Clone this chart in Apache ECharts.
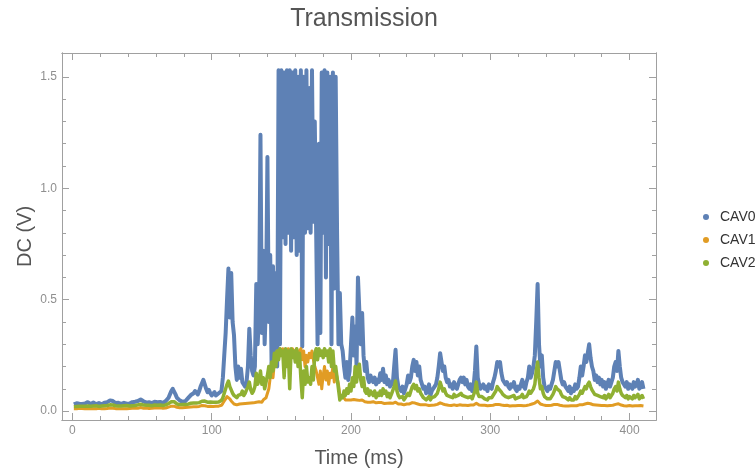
<!DOCTYPE html>
<html>
<head>
<meta charset="utf-8">
<script src="https://cdn.jsdelivr.net/npm/echarts@6/dist/echarts.min.js"></script>
<style>
html,body{margin:0;padding:0;background:#fff;}
#chart{width:755px;height:473px;}
</style>
</head>
<body>
<div id="chart"></div>
<script>
// Sampling: first time (ms) and step (ms) of every series below
const T_START = 1;
const T_STEP = 1;

const seriesNames = ["CAV0", "CAV1", "CAV2"];
const xMajorTicks = [0, 100, 200, 300, 400];
const xMinorTicks = [20, 40, 60, 80, 120, 140, 160, 180, 220, 240, 260, 280, 320, 340, 360, 380];
const yMajorTicks = [0, 0.5, 1.0, 1.5];
const yMinorTicks = [0.1, 0.2, 0.3, 0.4, 0.6, 0.7, 0.8, 0.9, 1.1, 1.2, 1.3, 1.4];

const cav0 = [
0.030,0.032,0.035,0.030,0.033,0.036,0.032,0.030,0.034,0.037,
0.040,0.036,0.032,0.035,0.038,0.034,0.031,0.033,0.036,0.032,
0.030,0.034,0.038,0.035,0.040,0.045,0.048,0.052,0.045,0.040,
0.036,0.034,0.037,0.035,0.032,0.034,0.037,0.035,0.033,0.036,
0.034,0.038,0.040,0.037,0.042,0.040,0.045,0.048,0.052,0.050,
0.044,0.040,0.038,0.036,0.040,0.038,0.036,0.039,0.042,0.038,
0.040,0.038,0.041,0.039,0.037,0.040,0.045,0.050,0.060,0.075,
0.090,0.100,0.095,0.075,0.060,0.052,0.048,0.045,0.042,0.046,
0.044,0.050,0.058,0.065,0.072,0.068,0.080,0.090,0.082,0.075,
0.090,0.110,0.125,0.140,0.120,0.100,0.085,0.095,0.080,0.070,
0.075,0.085,0.070,0.065,0.080,0.075,0.090,0.150,0.250,0.350,
0.500,0.640,0.420,0.620,0.400,0.340,0.200,0.140,0.200,0.150,
0.190,0.130,0.120,0.110,0.130,0.200,0.370,0.250,0.180,0.160,
0.200,0.570,0.300,0.450,1.240,0.350,0.720,0.300,0.500,1.140,
0.400,0.700,0.200,0.650,0.250,0.620,0.200,1.530,0.300,1.530,
0.780,1.520,0.750,1.530,0.800,1.530,0.720,1.520,0.780,1.530,
0.700,1.500,0.720,1.530,0.290,1.500,0.800,1.530,0.820,1.450,
0.800,1.530,0.850,1.300,0.800,0.300,1.200,0.350,1.520,0.800,
1.530,0.600,1.520,0.750,1.500,0.300,1.520,0.550,1.500,0.800,
0.300,0.530,0.300,0.270,0.200,0.150,0.220,0.140,0.180,0.300,
0.420,0.250,0.380,0.200,0.600,0.450,0.300,0.440,0.250,0.180,
0.220,0.150,0.130,0.160,0.140,0.130,0.150,0.120,0.140,0.130,
0.170,0.140,0.190,0.130,0.160,0.120,0.140,0.110,0.130,0.120,
0.200,0.275,0.150,0.110,0.100,0.090,0.110,0.080,0.100,0.120,
0.160,0.130,0.150,0.200,0.230,0.180,0.220,0.160,0.200,0.140,
0.120,0.100,0.110,0.080,0.090,0.120,0.070,0.090,0.100,0.110,
0.120,0.150,0.200,0.260,0.220,0.180,0.200,0.150,0.130,0.140,
0.110,0.120,0.100,0.130,0.110,0.100,0.120,0.140,0.150,0.130,
0.150,0.120,0.140,0.110,0.100,0.120,0.090,0.110,0.180,0.290,
0.150,0.120,0.100,0.110,0.120,0.100,0.110,0.090,0.120,0.110,
0.100,0.130,0.150,0.180,0.220,0.200,0.220,0.170,0.140,0.130,
0.120,0.130,0.110,0.100,0.120,0.110,0.130,0.100,0.090,0.110,
0.100,0.120,0.140,0.110,0.100,0.130,0.150,0.200,0.150,0.170,
0.200,0.250,0.400,0.570,0.300,0.200,0.250,0.150,0.110,0.100,
0.090,0.110,0.100,0.120,0.140,0.180,0.220,0.200,0.220,0.180,
0.140,0.120,0.130,0.110,0.100,0.090,0.110,0.080,0.100,0.090,
0.120,0.100,0.110,0.150,0.200,0.160,0.200,0.250,0.220,0.260,
0.300,0.240,0.200,0.180,0.140,0.160,0.130,0.150,0.120,0.140,
0.110,0.130,0.100,0.120,0.140,0.110,0.130,0.150,0.200,0.220,
0.180,0.270,0.200,0.150,0.130,0.120,0.110,0.130,0.100,0.120,
0.110,0.100,0.130,0.110,0.120,0.140,0.100,0.110,0.130,0.100
];

const cav1 = [
0.010,0.012,0.010,0.011,0.013,0.010,0.012,0.011,0.010,0.012,
0.011,0.013,0.012,0.010,0.011,0.012,0.010,0.011,0.013,0.012,
0.010,0.012,0.011,0.013,0.012,0.011,0.014,0.016,0.013,0.012,
0.011,0.012,0.010,0.013,0.011,0.012,0.010,0.012,0.011,0.013,
0.012,0.011,0.013,0.012,0.014,0.012,0.013,0.015,0.016,0.014,
0.013,0.012,0.014,0.013,0.012,0.014,0.013,0.012,0.014,0.013,
0.014,0.013,0.015,0.014,0.013,0.015,0.014,0.016,0.018,0.020,
0.022,0.024,0.022,0.019,0.017,0.016,0.015,0.016,0.015,0.017,
0.016,0.018,0.017,0.019,0.018,0.020,0.019,0.021,0.020,0.019,
0.021,0.023,0.025,0.027,0.024,0.022,0.021,0.023,0.022,0.020,
0.021,0.023,0.022,0.020,0.022,0.024,0.026,0.035,0.045,0.055,
0.065,0.070,0.055,0.045,0.038,0.032,0.030,0.028,0.030,0.032,
0.030,0.033,0.031,0.034,0.032,0.035,0.040,0.036,0.034,0.037,
0.035,0.040,0.038,0.042,0.045,0.040,0.050,0.055,0.060,0.080,
0.100,0.150,0.180,0.150,0.220,0.250,0.270,0.240,0.280,0.260,
0.280,0.250,0.270,0.220,0.280,0.260,0.240,0.280,0.270,0.250,
0.280,0.240,0.270,0.280,0.230,0.270,0.200,0.250,0.220,0.260,
0.240,0.270,0.230,0.200,0.180,0.150,0.120,0.180,0.100,0.160,
0.200,0.140,0.180,0.120,0.170,0.150,0.200,0.130,0.180,0.150,
0.120,0.070,0.060,0.055,0.060,0.050,0.055,0.050,0.045,0.050,
0.048,0.052,0.046,0.050,0.055,0.048,0.045,0.050,0.044,0.042,
0.045,0.040,0.043,0.040,0.038,0.042,0.040,0.037,0.040,0.038,
0.035,0.038,0.036,0.034,0.037,0.035,0.033,0.036,0.034,0.035,
0.038,0.040,0.035,0.032,0.030,0.032,0.030,0.028,0.030,0.032,
0.030,0.032,0.035,0.038,0.040,0.036,0.034,0.032,0.030,0.028,
0.030,0.028,0.026,0.028,0.027,0.025,0.027,0.026,0.028,0.027,
0.028,0.030,0.034,0.037,0.035,0.032,0.030,0.028,0.027,0.026,
0.027,0.025,0.026,0.028,0.027,0.025,0.026,0.028,0.027,0.026,
0.028,0.026,0.027,0.025,0.026,0.027,0.025,0.027,0.030,0.035,
0.030,0.027,0.025,0.026,0.024,0.026,0.025,0.024,0.026,0.025,
0.024,0.026,0.028,0.030,0.032,0.030,0.028,0.027,0.026,0.025,
0.024,0.026,0.025,0.023,0.025,0.024,0.026,0.024,0.023,0.025,
0.024,0.025,0.026,0.024,0.023,0.025,0.027,0.028,0.030,0.032,
0.034,0.036,0.040,0.045,0.038,0.032,0.030,0.028,0.026,0.025,
0.024,0.025,0.024,0.026,0.028,0.030,0.032,0.030,0.028,0.026,
0.025,0.024,0.025,0.023,0.024,0.023,0.025,0.024,0.023,0.024,
0.025,0.024,0.026,0.028,0.030,0.028,0.030,0.032,0.034,0.035,
0.036,0.033,0.030,0.028,0.026,0.027,0.025,0.026,0.024,0.025,
0.024,0.025,0.023,0.024,0.026,0.025,0.024,0.026,0.028,0.030,
0.030,0.033,0.030,0.027,0.025,0.024,0.025,0.023,0.024,0.025,
0.024,0.023,0.025,0.024,0.026,0.024,0.023,0.025,0.024,0.023
];

const cav2 = [
0.020,0.022,0.021,0.023,0.022,0.020,0.022,0.024,0.022,0.021,
0.023,0.025,0.022,0.021,0.023,0.022,0.024,0.023,0.021,0.022,
0.023,0.022,0.024,0.023,0.025,0.026,0.028,0.030,0.027,0.025,
0.024,0.022,0.023,0.025,0.023,0.022,0.024,0.023,0.025,0.024,
0.023,0.025,0.024,0.026,0.025,0.027,0.028,0.030,0.031,0.029,
0.027,0.025,0.026,0.024,0.026,0.025,0.024,0.026,0.027,0.025,
0.026,0.025,0.027,0.026,0.025,0.027,0.028,0.030,0.034,0.038,
0.042,0.045,0.042,0.036,0.032,0.030,0.029,0.028,0.030,0.029,
0.030,0.032,0.031,0.033,0.035,0.034,0.036,0.038,0.036,0.035,
0.038,0.041,0.044,0.048,0.045,0.042,0.040,0.043,0.041,0.039,
0.040,0.042,0.040,0.038,0.041,0.043,0.048,0.060,0.080,0.100,
0.120,0.135,0.110,0.095,0.080,0.070,0.065,0.060,0.070,0.065,
0.075,0.090,0.070,0.080,0.095,0.110,0.130,0.095,0.080,0.090,
0.110,0.170,0.120,0.140,0.180,0.120,0.150,0.100,0.130,0.160,
0.200,0.150,0.220,0.180,0.260,0.200,0.270,0.230,0.280,0.250,
0.270,0.150,0.280,0.200,0.270,0.100,0.280,0.240,0.270,0.220,
0.280,0.200,0.260,0.150,0.060,0.180,0.120,0.200,0.130,0.150,
0.120,0.200,0.140,0.260,0.280,0.230,0.280,0.250,0.270,0.240,
0.280,0.250,0.270,0.220,0.280,0.200,0.270,0.180,0.200,0.150,
0.100,0.050,0.070,0.060,0.090,0.070,0.100,0.080,0.120,0.090,
0.150,0.110,0.200,0.130,0.190,0.210,0.140,0.110,0.150,0.090,
0.080,0.100,0.070,0.090,0.080,0.070,0.090,0.060,0.080,0.070,
0.090,0.070,0.100,0.080,0.090,0.065,0.080,0.060,0.075,0.080,
0.110,0.135,0.090,0.070,0.060,0.055,0.065,0.050,0.060,0.070,
0.080,0.070,0.090,0.110,0.120,0.100,0.115,0.090,0.100,0.080,
0.070,0.060,0.065,0.050,0.055,0.065,0.050,0.060,0.055,0.065,
0.070,0.080,0.100,0.130,0.110,0.090,0.100,0.080,0.070,0.075,
0.065,0.070,0.060,0.075,0.065,0.060,0.070,0.075,0.080,0.070,
0.075,0.065,0.070,0.060,0.055,0.065,0.055,0.060,0.090,0.130,
0.080,0.065,0.060,0.065,0.060,0.055,0.060,0.050,0.060,0.055,
0.060,0.070,0.080,0.090,0.110,0.100,0.105,0.085,0.075,0.070,
0.065,0.070,0.060,0.055,0.065,0.060,0.070,0.055,0.050,0.060,
0.055,0.065,0.075,0.060,0.055,0.065,0.075,0.090,0.080,0.085,
0.100,0.120,0.180,0.220,0.150,0.100,0.110,0.080,0.065,0.060,
0.055,0.060,0.055,0.065,0.075,0.090,0.110,0.100,0.105,0.090,
0.075,0.065,0.070,0.060,0.055,0.050,0.060,0.050,0.055,0.050,
0.065,0.055,0.060,0.075,0.090,0.080,0.095,0.110,0.100,0.120,
0.130,0.110,0.095,0.090,0.075,0.080,0.070,0.075,0.065,0.070,
0.060,0.070,0.055,0.065,0.075,0.060,0.070,0.080,0.100,0.110,
0.090,0.130,0.100,0.080,0.070,0.065,0.060,0.070,0.055,0.065,
0.060,0.055,0.070,0.060,0.065,0.075,0.055,0.060,0.070,0.055
];

const seriesValues = [cav0, cav1, cav2];
const colors = ["#5E81B5", "#E19C24", "#8FB032"];
const lineWidths = [4, 3, 3.5];

function toPairs(vals) {
  return vals.map((v, i) => [T_START + i * T_STEP, v]);
}

const FRAME = "#a0a0a0";
const LABEL = "#8f8f8f";
const FONT = "Liberation Sans, Arial, sans-serif";

function xAx(pos, ticks, len, withLabel, extra) {
  return Object.assign({
    type: "value", position: pos, min: -7.5, max: 419,
    axisLine: { show: true, onZero: false, lineStyle: { color: FRAME, width: 1 } },
    axisTick: { show: true, inside: true, length: len, customValues: ticks, lineStyle: { color: FRAME } },
    axisLabel: withLabel ? { show: true, customValues: xMajorTicks, color: LABEL, fontSize: 12, fontFamily: FONT, margin: 5 } : { show: false },
    splitLine: { show: false }
  }, extra || {});
}
function yAx(pos, ticks, len, withLabel, extra) {
  return Object.assign({
    type: "value", position: pos, min: -0.04, max: 1.607,
    axisLine: { show: true, onZero: false, lineStyle: { color: FRAME, width: 1 } },
    axisTick: { show: true, inside: true, length: len, customValues: ticks, lineStyle: { color: FRAME } },
    axisLabel: withLabel ? { show: true, customValues: yMajorTicks, color: LABEL, fontSize: 12, fontFamily: FONT, margin: 5,
      formatter: v => v.toFixed(1) } : { show: false },
    splitLine: { show: false }
  }, extra || {});
}

const chart = echarts.init(document.getElementById("chart"), null, { renderer: "canvas" });
chart.setOption({
  animation: false,
  backgroundColor: "#fff",
  title: {
    text: "Transmission", left: 359, top: 2, textAlign: "center",
    textStyle: { fontSize: 25, fontWeight: "normal", color: "#555", fontFamily: FONT }
  },
  legend: {
    orient: "vertical", left: 698, top: 205, itemGap: 9,
    icon: "circle", itemWidth: 6, itemHeight: 6,
    textStyle: { fontSize: 14, color: "#333", fontFamily: FONT, padding: [0, 0, 0, 6] },
    data: seriesNames
  },
  grid: { left: 62, right: 99, top: 53, bottom: 53, containLabel: false },
  xAxis: [
    xAx("bottom", xMajorTicks, 7, true, {
      name: "Time (ms)", nameLocation: "middle", nameGap: 28, nameMoveOverlap: false,
      nameTextStyle: { fontSize: 20, color: "#555", fontFamily: FONT }
    }),
    xAx("bottom", xMinorTicks, 4, false),
    xAx("top", xMajorTicks, 7, false),
    xAx("top", xMinorTicks, 4, false)
  ],
  yAxis: [
    yAx("left", yMajorTicks, 7, true, {
      name: "DC (V)", nameLocation: "middle", nameGap: 27, nameMoveOverlap: false,
      nameTextStyle: { fontSize: 20, color: "#555", fontFamily: FONT }
    }),
    yAx("left", yMinorTicks, 4, false),
    yAx("right", yMajorTicks, 7, false),
    yAx("right", yMinorTicks, 4, false)
  ],
  series: seriesNames.map((name, k) => ({
    name: name, type: "line", xAxisIndex: 0, yAxisIndex: 0,
    data: toPairs(seriesValues[k]),
    showSymbol: false, symbol: "circle", symbolSize: 4,
    color: colors[k],
    itemStyle: { color: colors[k] },
    lineStyle: { color: colors[k], width: lineWidths[k], join: "round" },
    emphasis: { disabled: true }
  }))
});
</script>
</body>
</html>
